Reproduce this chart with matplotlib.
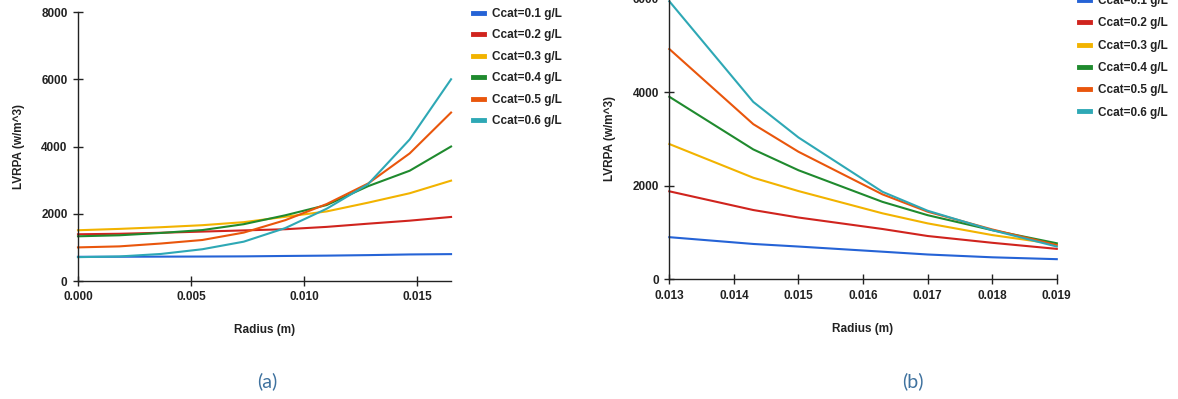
import matplotlib
matplotlib.use('Agg')
import matplotlib.pyplot as plt
from matplotlib.ticker import FormatStrFormatter

plt.rcParams['font.family'] = ['Liberation Sans', 'DejaVu Sans']

labels = ['Ccat=0.1 g/L', 'Ccat=0.2 g/L', 'Ccat=0.3 g/L',
          'Ccat=0.4 g/L', 'Ccat=0.5 g/L', 'Ccat=0.6 g/L']
colors = ['#2563d6', '#d0241e', '#f2b300', '#1f8a2e', '#e9560c', '#2ea8b5']

# (a) LVRPA vs radius, r = 0 .. 0.0165 m
radius_a = [0.0, 0.00183, 0.00367, 0.0055, 0.00733, 0.00917, 0.011, 0.01283, 0.01467, 0.0165]
lvrpa_a = [
    [720, 722, 725, 728, 733, 745, 755, 770, 790, 800],
    [1390, 1405, 1435, 1470, 1505, 1540, 1610, 1705, 1795, 1905],
    [1510, 1550, 1600, 1660, 1750, 1910, 2070, 2330, 2610, 2985],
    [1330, 1360, 1430, 1515, 1690, 1955, 2260, 2820, 3280, 4000],
    [1000, 1030, 1115, 1220, 1440, 1810, 2290, 2900, 3795, 5010],
    [710, 730, 805, 945, 1170, 1575, 2150, 2880, 4210, 6000],
]

# (b) LVRPA vs radius, r = 0.013 .. 0.019 m
radius_b = [0.013, 0.0143, 0.015, 0.0163, 0.017, 0.018, 0.019]
lvrpa_b = [
    [900, 755, 700, 590, 530, 470, 430],
    [1880, 1480, 1320, 1075, 925, 780, 650],
    [2890, 2170, 1885, 1410, 1195, 945, 750],
    [3900, 2775, 2330, 1655, 1370, 1050, 770],
    [4920, 3315, 2725, 1815, 1445, 1065, 730],
    [5940, 3790, 3030, 1870, 1465, 1050, 700],
]

text_color = '#222222'
fs = 8.5
fig = plt.figure(figsize=(11.78, 3.99), dpi=100)

ax_a = fig.add_axes([0.0662, 0.2957, 0.3167, 0.6742])
ax_b = fig.add_axes([0.5682, 0.3000, 0.3289, 0.7038])


def style_axis(ax, xlim, ylim, xticks, yticks):
    ax.set_xlim(*xlim)
    ax.set_ylim(*ylim)
    ax.set_xticks(xticks)
    ax.set_yticks(yticks)
    ax.xaxis.set_major_formatter(FormatStrFormatter('%.3f'))
    for side in ['top', 'right']:
        ax.spines[side].set_visible(False)
    for side in ['left', 'bottom']:
        ax.spines[side].set_color(text_color)
        ax.spines[side].set_linewidth(1.0)
    ax.tick_params(direction='inout', length=7, width=1.0, pad=4,
                   colors=text_color, labelsize=fs)
    for lbl in ax.get_xticklabels() + ax.get_yticklabels():
        lbl.set_fontweight('bold')
    ax.set_xlabel('Radius (m)', fontsize=fs, fontweight='bold',
                  color=text_color, labelpad=15)
    ax.set_ylabel('LVRPA (w/m^3)', fontsize=fs, fontweight='bold',
                  color=text_color, labelpad=12)


for vals, c, lab in zip(lvrpa_a, colors, labels):
    ax_a.plot(radius_a, vals, color=c, linewidth=1.5, label=lab, clip_on=False)
for vals, c, lab in zip(lvrpa_b, colors, labels):
    ax_b.plot(radius_b, vals, color=c, linewidth=1.5, label=lab, clip_on=False)

style_axis(ax_a, (0, 0.0165), (0, 8000),
           [0.0, 0.005, 0.010, 0.015], [0, 2000, 4000, 6000, 8000])
style_axis(ax_b, (0.013, 0.019), (0, 6000),
           [0.013, 0.014, 0.015, 0.016, 0.017, 0.018, 0.019],
           [0, 2000, 4000, 6000])

# legends to the right of each panel
for ax, anchor, spacing in [(ax_a, (0.4013, 0.980), 0.80),
                            (ax_b, (0.9160, 1.012), 0.87)]:
    leg = fig.legend(*ax.get_legend_handles_labels(), loc='upper left',
                     bbox_to_anchor=anchor, frameon=False, borderpad=0,
                     borderaxespad=0, handlelength=0.95, handletextpad=0.68,
                     labelspacing=spacing, prop={'size': fs, 'weight': 'bold'})
    for h in leg.legend_handles:
        h.set_linewidth(3.5)
    for t in leg.get_texts():
        t.set_color(text_color)

# panel captions
for xpix, cap in [(267, '(a)'), (913, '(b)')]:
    fig.text(xpix / 1178, 1 - 381 / 399, cap, ha='center', va='center',
             fontsize=14, color='#3f729f', family=['Lato', 'DejaVu Sans'])

plt.savefig('out.png', dpi=100)
plt.close()
